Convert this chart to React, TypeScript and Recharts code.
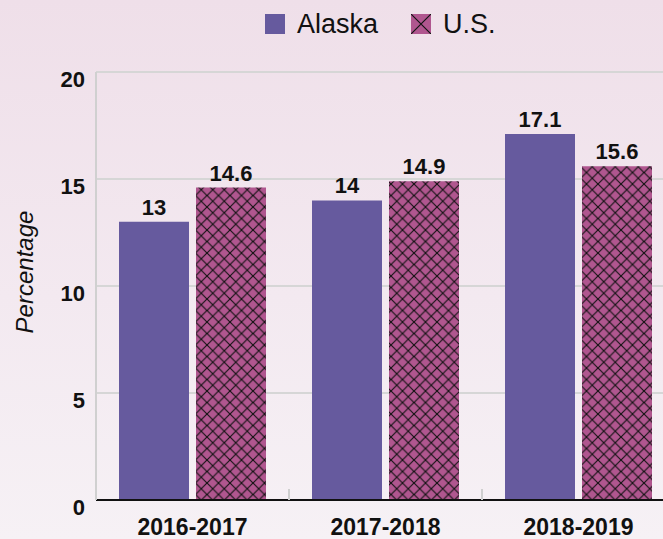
import React from 'react';
import { BarChart, Bar, XAxis, YAxis, CartesianGrid, LabelList } from 'recharts';

const categories = ['2016-2017', '2017-2018', '2018-2019'];
const alaskaValues = [13, 14, 17.1];
const usValues = [14.6, 14.9, 15.6];
const yTicks = [0, 5, 10, 15, 20];
const seriesNames = ['Alaska', 'U.S.'];

const data = categories.map((c, i) => ({ category: c, alaska: alaskaValues[i], us: usValues[i] }));

const ALASKA = '#665a9e';
const US = '#b0568f';
const FONT = '"Liberation Sans", Arial, sans-serif';

const Hatch = ({ id, size }: { id: string; size: number }) => (
  <pattern id={id} patternUnits="userSpaceOnUse" width={size} height={size}>
    <rect width={size} height={size} fill={US} />
    <path d={`M0,0 L${size},${size} M${size},0 L0,${size}`} stroke="#111" strokeWidth={1.15} />
  </pattern>
);

const CategoryTick = (props: any) => {
  const { x, y, payload, index, width, visibleTicksCount } = props;
  const half = width && visibleTicksCount ? width / visibleTicksCount / 2 : 0;
  const axisY = y - 8;
  return (
    <g>
      {index < visibleTicksCount - 1 && half > 0 ? (
        <line x1={x + half} x2={x + half} y1={axisY} y2={axisY - 11} stroke="#cfcfcf" strokeWidth={2} />
      ) : null}
      <text
        x={x}
        y={y + 27}
        textAnchor="middle"
        fill="#111"
        fontSize={23}
        fontWeight={700}
        fontFamily={FONT}
      >
        {payload.value}
      </text>
    </g>
  );
};

export default function App() {
  return (
    <div
      style={{
        position: 'fixed',
        left: 0,
        top: 0,
        width: 663,
        height: 539,
        overflow: 'hidden',
        background: 'linear-gradient(180deg, #efdfe9 0%, #f3e9f0 55%, #f6f1f5 100%)',
        fontFamily: FONT,
      }}
    >
      <div
        style={{
          position: 'absolute',
          top: 8,
          left: 265,
          display: 'flex',
          alignItems: 'center',
          fontSize: 27,
          color: '#111',
          lineHeight: '32px',
        }}
      >
        <svg width={20} height={20} style={{ marginRight: 12 }}>
          <rect width={20} height={20} fill={ALASKA} />
        </svg>
        <span style={{ marginRight: 33 }}>{seriesNames[0]}</span>
        <svg width={20} height={20} style={{ marginRight: 12 }}>
          <defs>
            <Hatch id="legendHatch" size={20} />
          </defs>
          <rect width={20} height={20} fill="url(#legendHatch)" />
        </svg>
        <span>{seriesNames[1]}</span>
      </div>
      <div
        style={{
          position: 'absolute',
          left: 25,
          top: 272,
          transform: 'translate(-50%, -50%) rotate(-90deg)',
          fontSize: 24,
          fontStyle: 'italic',
          color: '#111',
          whiteSpace: 'nowrap',
          lineHeight: '26px',
        }}
      >
        Percentage
      </div>
      <div style={{ position: 'absolute', left: 0, top: 0 }}>
        <BarChart
          width={700}
          height={539}
          data={data}
          margin={{ top: 72, right: 25, bottom: 0, left: 0 }}
          barSize={70}
          barGap={7}
        >
          <defs>
            <Hatch id="usHatch" size={11.5} />
          </defs>
          <CartesianGrid vertical={false} stroke="#d6d6d6" strokeWidth={2} />
          <XAxis
            dataKey="category"
            height={39}
            axisLine={{ stroke: '#111', strokeWidth: 2 }}
            tickLine={false}
            tick={<CategoryTick />}
            interval={0}
          />
          <YAxis
            width={96}
            domain={[0, 20]}
            ticks={yTicks}
            interval={0}
            axisLine={{ stroke: '#d0d0d0', strokeWidth: 2 }}
            tickLine={false}
            tickMargin={5}
            tick={{ fill: '#111', fontSize: 22, fontWeight: 700, fontFamily: FONT, dy: 7 }}
          />
          <Bar dataKey="alaska" name={seriesNames[0]} fill={ALASKA} isAnimationActive={false}>
            <LabelList
              dataKey="alaska"
              position="top"
              offset={7}
              fill="#111"
              fontSize={22}
              fontWeight={700}
              fontFamily={FONT}
            />
          </Bar>
          <Bar dataKey="us" name={seriesNames[1]} fill="url(#usHatch)" isAnimationActive={false}>
            <LabelList
              dataKey="us"
              position="top"
              offset={7}
              fill="#111"
              fontSize={22}
              fontWeight={700}
              fontFamily={FONT}
            />
          </Bar>
        </BarChart>
      </div>
    </div>
  );
}
